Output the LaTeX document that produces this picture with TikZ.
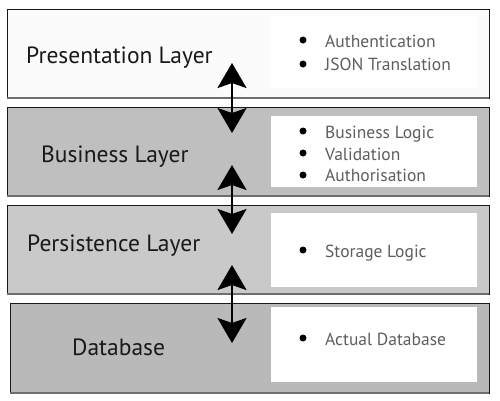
\documentclass[tikz,border=0pt]{standalone}
\usepackage{fontspec}
\setmainfont{PT Sans}
\usetikzlibrary{arrows.meta}
\definecolor{lay1}{HTML}{FBFBFB}
\definecolor{lay2}{HTML}{BFBFBF}
\definecolor{lay3}{HTML}{C9C9C9}
\definecolor{lay4}{HTML}{B9B9B9}
\definecolor{itemgray}{HTML}{5E5E5E}
\definecolor{edgegray}{HTML}{6E6E6E}
\tikzset{
  layer/.style={draw=black!90, line width=1pt},
  lowedge/.style={draw=edgegray, line width=1.5pt},
  inner/.style={fill=white, draw=none},
  title/.style={anchor=base west, font=\fontsize{23.5}{26}\selectfont, text=black!90, inner sep=0pt},
  item/.style={anchor=base west, font=\fontsize{17.5}{20}\selectfont, text=itemgray, inner sep=0pt},
  dot/.style={circle, fill=black, inner sep=0pt, minimum size=7pt},
  biarrow/.style={line width=2.5pt, {Stealth[length=25pt,width=29pt,inset=5pt]}-{Stealth[length=25pt,width=29pt,inset=5pt]}}
}
\begin{document}
\begin{tikzpicture}[x=1pt,y=-1pt]
\useasboundingbox (0,0) rectangle (500,400);
% layers
\draw[layer, fill=lay1] (7,9) rectangle (489,98);
\draw[layer, fill=lay2] (7,107) rectangle (489,196);
\draw[layer, fill=lay3] (7,205) rectangle (489,294);
\draw[layer, fill=lay4] (10,303) rectangle (489,393);
\draw[lowedge] (7,98) -- (489,98);
\draw[lowedge] (7,196) -- (489,196);
\draw[lowedge] (7,294) -- (489,294);
\draw[lowedge] (10,393) -- (489,393);
% inner boxes
\fill[inner] (271,16) rectangle (477,88);
\fill[inner] (271,116) rectangle (477,187);
\fill[inner] (271,213) rectangle (477,287);
\fill[inner] (271,307) rectangle (477,382);
% titles
\node[title] (t1) at (26,63) {Presentation Layer};
\node[title] (t2) at (41,162) {Business Layer};
\node[title] (t3) at (27,251) {Persistence Layer};
\node[title] (t4) at (72,355) {Database};
% items
\node[dot] (d1) at (303,40) {}; \node[item] (i1) at (325,47) {Authentication};
\node[dot] (d2) at (303,64) {}; \node[item] (i2) at (325,70) {JSON Translation};
\node[dot] (d3) at (303,131) {}; \node[item] (i3) at (325,138) {Business Logic};
\node[dot] (d4) at (303,153) {}; \node[item] (i4) at (325,160) {Validation};
\node[dot] (d5) at (303,175) {}; \node[item] (i5) at (325,181) {Authorisation};
\node[dot] (d6) at (303,250) {}; \node[item] (i6) at (325,257) {Storage Logic};
\node[dot] (d7) at (303,338) {}; \node[item] (i7) at (325,345) {Actual Database};
% arrows
\coordinate (a1t) at (232,63);
\coordinate (a1b) at (232,133);
\coordinate (a2t) at (232,165);
\coordinate (a2b) at (232,234);
\coordinate (a3t) at (232,265);
\coordinate (a3b) at (232,343);
\draw[biarrow] (a1t) -- (a1b);
\draw[biarrow] (a2t) -- (a2b);
\draw[biarrow] (a3t) -- (a3b);
\end{tikzpicture}
\end{document}
